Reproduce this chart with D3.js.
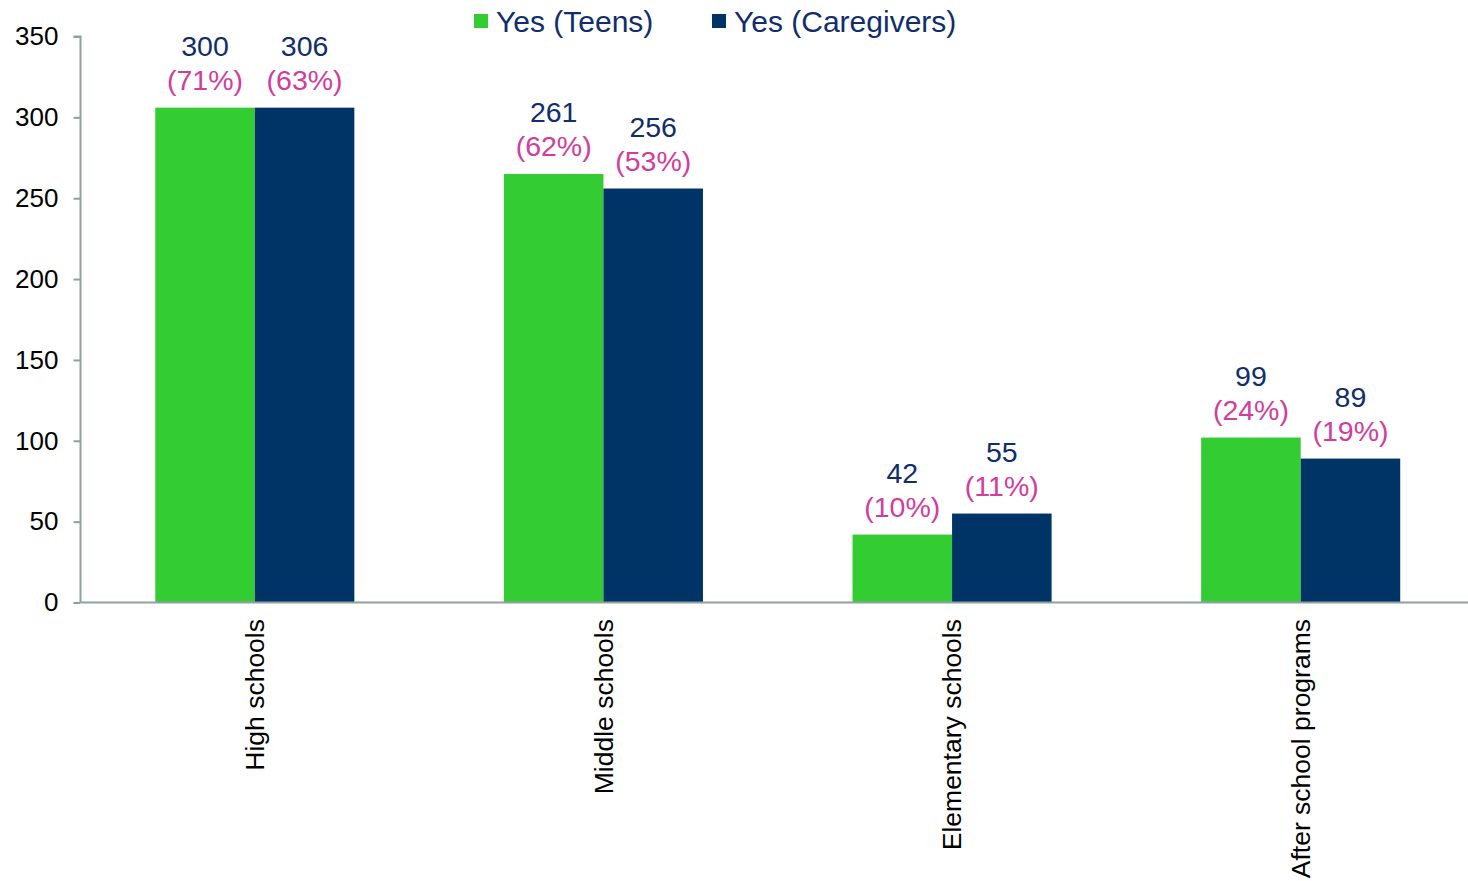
<!DOCTYPE html>
<html><head><meta charset="utf-8">
<script src="https://cdn.jsdelivr.net/npm/d3@7"></script>
<style>
html,body{margin:0;padding:0;background:#fff;}
svg{display:block;font-family:"Liberation Sans",Arial,sans-serif;}
</style></head>
<body>
<svg id="chart" width="1468" height="881"></svg>
<script>
const categories = ["High schools","Middle schools","Elementary schools","After school programs"];
const seriesNames = ["Yes (Teens)","Yes (Caregivers)"];
const teensBar = [306, 265, 42, 102];
const caregiversBar = [306, 256, 55, 89];
const teensCount = [300, 261, 42, 99];
const teensPct = ["(71%)","(62%)","(10%)","(24%)"];
const caregiversCount = [306, 256, 55, 89];
const caregiversPct = ["(63%)","(53%)","(11%)","(19%)"];
const yTicks = [0,50,100,150,200,250,300,350];

const colors = ["#33CC33","#003366"];
const numColor = "#112D6B";
const pctColor = "#D23C9B";
const axisColor = "#8FA0A0";

const svg = d3.select("#chart");
const x0 = d3.scaleBand().domain(categories).range([80.5, 1475]).padding(0);
const bw = x0.bandwidth();
const barW = bw * 0.2855;
const x1 = d3.scaleBand().domain(seriesNames).range([bw/2 - barW, bw/2 + barW]).padding(0);
const y = d3.scaleLinear().domain([0,350]).range([602.5, 36.5]);

const rows = categories.map((c,i)=>({
  cat:c,
  vals:[
    {s:seriesNames[0], v:teensBar[i], n:teensCount[i], p:teensPct[i], c:colors[0]},
    {s:seriesNames[1], v:caregiversBar[i], n:caregiversCount[i], p:caregiversPct[i], c:colors[1]}
  ]
}));

const g = svg.selectAll("g.cat").data(rows).enter().append("g")
  .attr("transform", d=>`translate(${x0(d.cat)},0)`);
g.selectAll("rect").data(d=>d.vals).enter().append("rect")
  .attr("x", d=>x1(d.s)).attr("width", x1.bandwidth())
  .attr("y", d=>y(d.v)).attr("height", d=>y(0)-y(d.v))
  .attr("fill", d=>d.c);
g.selectAll("text.num").data(d=>d.vals).enter().append("text")
  .attr("class","num")
  .attr("x", d=>x1(d.s)+x1.bandwidth()/2)
  .attr("y", d=>y(d.v)-52)
  .attr("text-anchor","middle").attr("font-size","28.5px").attr("fill",numColor)
  .text(d=>d.n);
g.selectAll("text.pct").data(d=>d.vals).enter().append("text")
  .attr("class","pct")
  .attr("x", d=>x1(d.s)+x1.bandwidth()/2)
  .attr("y", d=>y(d.v)-18)
  .attr("text-anchor","middle").attr("font-size","28.5px").attr("fill",pctColor)
  .text(d=>d.p);

// Y axis
const yAxis = d3.axisLeft(y).tickValues(yTicks).tickSize(7).tickPadding(15);
const ya = svg.append("g").attr("transform","translate(80.5,0)").call(yAxis);
ya.select(".domain").attr("stroke",axisColor).attr("stroke-width",2).attr("d",`M-7,${y(350)}H0V${y(0)}`);
ya.selectAll(".tick line").attr("stroke",axisColor).attr("stroke-width",2);
ya.selectAll(".tick text").attr("font-size","26px").attr("fill","#000").attr("font-family","Liberation Sans, Arial, sans-serif");

// X axis
const xAxis = d3.axisBottom(x0).tickSize(0).tickFormat("");
const xa = svg.append("g").attr("transform",`translate(0,${y(0)})`).call(xAxis);
xa.select(".domain").attr("stroke",axisColor).attr("stroke-width",2).attr("d","M80.5,0H1468");

svg.selectAll("text.catlbl").data(categories).enter().append("text")
  .attr("class","catlbl")
  .attr("transform", d=>`translate(${x0(d)+bw/2},619) rotate(-90)`)
  .attr("dy","0.35em")
  .attr("text-anchor","end").attr("font-size","26.5px").attr("fill","#000")
  .text(d=>d);

// Legend
const legX = [474, 712];
const leg = svg.selectAll("g.leg").data(seriesNames).enter().append("g")
  .attr("transform",(d,i)=>`translate(${legX[i]},0)`);
leg.append("rect").attr("x",0).attr("y",14).attr("width",14).attr("height",14)
  .attr("fill",(d,i)=>colors[i]);
leg.append("text").attr("x",22).attr("y",31.5).attr("font-size","30px").attr("fill",numColor)
  .text(d=>d);
</script>
</body></html>
